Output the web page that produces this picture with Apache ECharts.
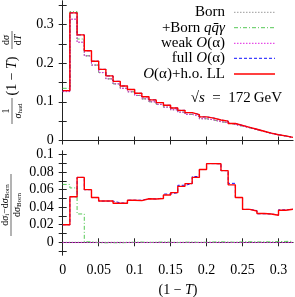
<!DOCTYPE html>
<html><head><meta charset="utf-8">
<script src="https://cdn.jsdelivr.net/npm/echarts@6/dist/echarts.min.js"></script>
<style>html,body{margin:0;padding:0;background:#fff}#c{width:295px;height:297px}</style>
</head><body><div id="c"></div>
<script>
// bin edges of (1-T)
const binEdges = [0,0.01,0.02,0.03,0.04,0.05,0.06,0.07,0.08,0.09,0.10,0.11,0.12,0.13,0.14,0.15,0.16,0.17,0.18,0.19,0.20,0.21,0.22,0.23,0.24,0.25,0.26,0.27,0.28,0.29,0.30,0.31,0.32];
const seriesNames = ['Born', '+Born qq\u0304\u03b3', 'weak O(\u03b1)', 'full O(\u03b1)', 'O(\u03b1)+h.o. LL'];
// top panel: (1/sigma_had)(1-T) dsigma/dT
const topBorn  = [0.1265,0.3137,0.2542,0.2189,0.1951,0.1757,0.1595,0.1465,0.1350,0.1260,0.1165,0.1077,0.1001,0.0933,0.0863,0.0795,0.0733,0.0675,0.0624,0.0563,0.0532,0.0486,0.0462,0.0413,0.0371,0.0328,0.0280,0.0232,0.0184,0.0145,0.0116,0.0077];
const topQQG   = [0.1349,0.3331,0.2624,0.2190,0.1950,0.1756,0.1594,0.1464,0.1350,0.1260,0.1165,0.1077,0.1001,0.0933,0.0863,0.0795,0.0733,0.0675,0.0624,0.0563,0.0532,0.0486,0.0462,0.0413,0.0371,0.0328,0.0280,0.0232,0.0184,0.0145,0.0116,0.0077];
const topWeak  = [0.1264,0.3136,0.2541,0.2188,0.1950,0.1756,0.1594,0.1464,0.1349,0.1259,0.1165,0.1077,0.1001,0.0933,0.0863,0.0795,0.0733,0.0675,0.0624,0.0563,0.0532,0.0486,0.0462,0.0413,0.0371,0.0328,0.0280,0.0232,0.0184,0.0145,0.0116,0.0077];
const topFull  = [0.129,0.330,0.273,0.232,0.205,0.184,0.167,0.153,0.141,0.132,0.122,0.113,0.105,0.098,0.091,0.084,0.078,0.072,0.067,0.061,0.058,0.053,0.050,0.044,0.039,0.034,0.029,0.024,0.019,0.015,0.012,0.008];
const topLL    = [0.129,0.330,0.273,0.232,0.205,0.184,0.167,0.153,0.141,0.132,0.122,0.113,0.105,0.098,0.091,0.084,0.078,0.072,0.067,0.061,0.058,0.053,0.050,0.044,0.039,0.034,0.029,0.024,0.019,0.015,0.012,0.008];
// bottom panel: (dsigma_i - dsigma_Born)/dsigma_Born
const relBorn  = [0,0,0,0,0,0,0,0,0,0,0,0,0,0,0,0,0,0,0,0,0,0,0,0,0,0,0,0,0,0,0,0];
const relQQG   = [0.066,0.062,0.0323,0.0005,-0.0005,-0.0006,-0.0005,-0.0006,-0.0003,0,0.0002,-0.0002,0,0.0003,0,-0.0003,0,0.0002,-0.0002,0,0.0003,0.0005,0.0002,0,0.0004,0.0006,0.0003,0.0005,0.0004,0.0008,0.0010,0.0012];
const relWeak  = [-0.0003,-0.0003,-0.0003,-0.0003,-0.0003,-0.0003,-0.0003,-0.0003,-0.0003,-0.0003,-0.0003,-0.0003,-0.0003,-0.0003,-0.0003,-0.0003,-0.0003,-0.0003,-0.0003,-0.0003,-0.0003,-0.0003,-0.0003,-0.0003,-0.0003,-0.0003,-0.0003,-0.0003,-0.0003,-0.0003,-0.0003,-0.0003];
const relFull  = [0.020,0.052,0.074,0.060,0.051,0.047,0.047,0.045,0.0445,0.048,0.048,0.0497,0.0494,0.0505,0.055,0.0566,0.065,0.0669,0.075,0.083,0.0897,0.0895,0.0817,0.0672,0.051,0.0375,0.0362,0.0325,0.0323,0.031,0.0370,0.0377];
const relLL    = [0.020,0.052,0.074,0.060,0.051,0.047,0.047,0.0445,0.0445,0.048,0.0475,0.0497,0.0494,0.050,0.054,0.0566,0.0638,0.0669,0.074,0.083,0.0897,0.0895,0.0817,0.0655,0.051,0.0375,0.0357,0.0328,0.0323,0.0309,0.0365,0.0377];
const xTicks = [0,0.05,0.1,0.15,0.2,0.25,0.3];
const topYTicks = [0,0.05,0.1,0.15,0.2,0.25,0.3,0.35];
const topYLabels = [0,0.1,0.2,0.3];
const botYTicks = [-0.01,0,0.01,0.02,0.03,0.04,0.05,0.06,0.07,0.08,0.09,0.1];
const botYLabels = [0,0.02,0.04,0.06,0.08,0.1];

const FONT = 'Liberation Serif';
const styles = [
  {color:'#9a9a9a', width:1, type:[1.5,1.5]},
  {color:'#55c855', width:1, type:[4,2,1,2]},
  {color:'#e020e0', width:1, type:[1.5,1.5]},
  {color:'#1010ff', width:1, type:[3,2]},
  {color:'#ff0000', width:1.4, type:'solid'}
];
function steps(vals){
  const d = vals.map((v,i)=>[binEdges[i], v]);
  d.push([binEdges[binEdges.length-1], vals[vals.length-1]]);
  return d;
}
const L = 62.7, W = 230.2;
const axLine = {show:true, lineStyle:{color:'#222', width:1}};
function xAx(grid, pos, labels){
  return {type:'value', gridIndex:grid, position:pos, min:0, max:0.32, interval:0.05,
    axisLine:axLine, splitLine:{show:false},
    axisTick:{show:true, inside:true, length:4, customValues:xTicks, lineStyle:{color:'#222'}},
    axisLabel:{show:labels, customValues:xTicks, margin:8, color:'#000', fontFamily:FONT, fontSize:14,
      formatter:v=>String(Math.round(v*100)/100)}};
}
function yAx(grid, pos, min, max, ticks, labs, labels){
  return {type:'value', gridIndex:grid, position:pos, min:min, max:max,
    axisLine:axLine, splitLine:{show:false},
    axisTick:{show:true, inside:true, length:4, customValues:ticks, lineStyle:{color:'#222'}},
    axisLabel:{show:labels, customValues:labs, margin:9, color:'#000', fontFamily:FONT, fontSize:14,
      formatter:v=>String(Math.round(v*1000)/1000)}};
}
const topSets = [topBorn, topQQG, topWeak, topFull, topLL];
const botSets = [relBorn, relQQG, relWeak, relFull, relLL];
const series = [];
topSets.forEach((s,i)=>series.push({type:'line', name:seriesNames[i], xAxisIndex:0, yAxisIndex:0, step:'end', symbol:'none',
  data:steps(s), lineStyle:styles[i], itemStyle:{color:styles[i].color}, silent:true, animation:false, z:2+i}));
botSets.forEach((s,i)=>series.push({type:'line', name:seriesNames[i], xAxisIndex:2, yAxisIndex:2, step:'end', symbol:'none',
  data:steps(s), lineStyle:styles[i], itemStyle:{color:styles[i].color}, silent:true, animation:false, z:2+i}));

function T(x, y, text, size, align, rich){
  return {type:'text', x:x, y:y, style:{text:text, fill:'#000', fontSize:size, fontFamily:FONT,
    textAlign:align||'center', textVerticalAlign:'middle', rich:rich||{}}};
}
function it(size){ return {fontSize:size, fontStyle:'italic', fontFamily:FONT}; }
function sub(size){ return {fontSize:size, fontFamily:FONT, padding:[Math.round(size*0.6),0,0,0]}; }

const LF = 15;
const legendRows = [12.3, 27.7, 43.3, 58.3, 74];
const legendTexts = [
  'Born',
  '+Born {i|qq\u0304\u03b3}',
  'weak {i|O}(\u03b1)',
  'full {i|O}(\u03b1)',
  '{i|O}(\u03b1)+h.o. LL'
];
const graphic = [];
legendTexts.forEach((t,i)=>{
  graphic.push(T(225, legendRows[i], t, LF, 'right', {i:it(LF)}));
  const st = styles[i];
  graphic.push({type:'line', shape:{x1:234, y1:legendRows[i], x2:275, y2:legendRows[i]},
    style:{stroke:(i===4?'#ff4040':st.color), lineWidth:(i===4?2:1), lineDash:(st.type==='solid'?null:st.type)}});
});
graphic.push(T(282, 98, '\u221a{i|s}\u2002=\u2002172\u2009GeV', 15, 'right', {i:it(15)}));
// x axis title
graphic.push(T(178, 290, '(1 \u2212 {i|T})', 14, 'center', {i:it(14)}));
// top y title (rotated)
graphic.push({type:'group', x:12, y:75, rotation:Math.PI/2, children:[
  T(-36, -6, '1', 10),
  {type:'line', shape:{x1:-49, y1:0, x2:-23, y2:0}, style:{stroke:'#000', lineWidth:0.6}},
  T(-36, 6, '{i|\u03c3}{s|had}', 10, 'center', {i:it(10), s:sub(7)}),
  T(-1, 0, '(1 \u2212 {i|T})', 14, 'center', {i:it(14)}),
  T(35, -6, 'd{i|\u03c3}', 10, 'center', {i:it(10)}),
  {type:'line', shape:{x1:26, y1:0, x2:44, y2:0}, style:{stroke:'#000', lineWidth:0.6}},
  T(35, 6, 'd{i|T}', 10, 'center', {i:it(10)})
]});
// bottom y title (rotated)
graphic.push({type:'group', x:11, y:205, rotation:Math.PI/2, children:[
  T(0, -6, 'd{i|\u03c3}{s|i}\u2212d{i|\u03c3}{s|Born}', 10, 'center', {i:it(10), s:sub(7)}),
  {type:'line', shape:{x1:-31, y1:0, x2:31, y2:0}, style:{stroke:'#000', lineWidth:0.6}},
  T(0, 6, 'd{i|\u03c3}{s|Born}', 10, 'center', {i:it(10), s:sub(7)})
]});

const chart = echarts.init(document.getElementById('c'), null, {renderer:'canvas'});
chart.setOption({
  animation:false,
  grid:[{left:L, top:1, width:W, height:139.5}, {left:L, top:151, width:W, height:104}],
  xAxis:[xAx(0,'bottom',false), xAx(0,'top',false), xAx(1,'bottom',true), xAx(1,'top',false)],
  yAxis:[
    yAx(0,'left',0,0.3607,topYTicks,topYLabels,true), yAx(0,'right',0,0.3607,topYTicks,topYLabels,false),
    yAx(1,'left',-0.0145,0.1041,botYTicks,botYLabels,true), yAx(1,'right',-0.0145,0.1041,botYTicks,botYLabels,false)
  ],
  series:series,
  graphic:graphic
});
</script></body></html>
